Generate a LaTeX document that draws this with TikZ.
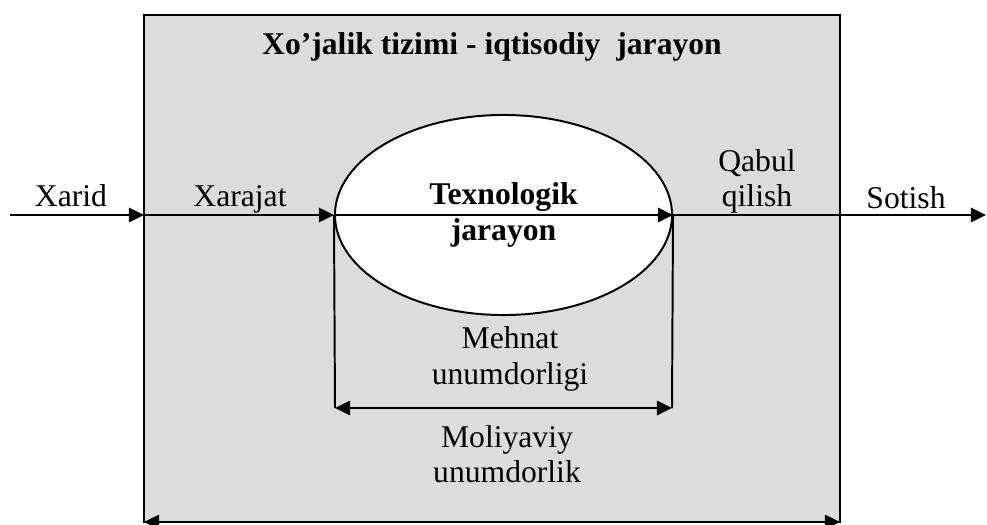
\documentclass[tikz,border=0pt]{standalone}
\usepackage{fontspec}
\setmainfont{Liberation Serif}
\usetikzlibrary{shapes.geometric}
\usetikzlibrary{arrows.meta}
\definecolor{boxgray}{RGB}{220,220,220}
\tikzset{
  arr/.style={line width=1.4pt,-{Triangle[length=0.38cm,width=0.36cm]}},
  twoarr/.style={line width=1.4pt,{Triangle[length=0.38cm,width=0.36cm]}-{Triangle[length=0.38cm,width=0.36cm]}},
  lbl/.style={font=\fontsize{22.5}{25}\selectfont,inner sep=0pt,align=center}
}

\begin{document}
\begin{tikzpicture}[x=0.025cm,y=-0.025cm]
\useasboundingbox (0,0) rectangle (987,525);
\draw[fill=boxgray,line width=1.4pt] (144,15) rectangle (840,522);

\coordinate (in) at (10,215);
\coordinate (boxL) at (144,215);
\coordinate (out) at (986,215);
\coordinate (mL) at (335,408);
\coordinate (mR) at (672,408);
\coordinate (bL) at (144,522);
\coordinate (bR) at (840,522);

\node[ellipse,draw,fill=white,line width=1.4pt,minimum width=8.425cm,minimum height=5cm,inner sep=0pt,
  lbl,font=\fontsize{22.5}{25}\selectfont\bfseries] (tech) at (503.5,215) {Texnologik\\jarayon};

\node[lbl,font=\fontsize{22.5}{25}\selectfont\bfseries,anchor=base] (title) at (492,55) {Xo’jalik tizimi - iqtisodiy\ \ jarayon};
\node[lbl,anchor=base] (xarid) at (71,207) {Xarid};
\node[lbl,anchor=base] (xarajat) at (240,207) {Xarajat};
\node[lbl] (qabul) at (757,181) {Qabul\\qilish};
\node[lbl,anchor=base] (sotish) at (906,209) {Sotish};
\node[lbl] (mehnat) at (510,359) {Mehnat\\unumdorligi};
\node[lbl] (moliya) at (507,454) {Moliyaviy\\unumdorlik};

\draw[arr] (in) -- (boxL);
\draw[arr] (boxL) -- (tech.west);
\draw[arr] (tech.west) -- (tech.east);
\draw[arr] (tech.east) -- (out);
\draw[line width=1.4pt] (tech.west) -- (mL);
\draw[line width=1.4pt] (tech.east) -- (mR);
\draw[twoarr] (mL) -- (mR);
\draw[twoarr] (bL) -- (bR);

\end{tikzpicture}
\end{document}
